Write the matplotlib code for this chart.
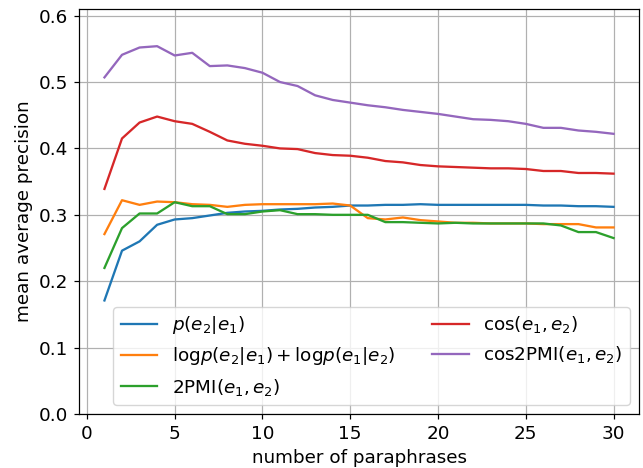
import matplotlib
matplotlib.use("Agg")
import matplotlib.pyplot as plt

x = list(range(1, 31))

p_e2_e1 = [0.171, 0.246, 0.260, 0.285, 0.293, 0.295, 0.299, 0.303, 0.305, 0.306,
           0.308, 0.309, 0.311, 0.312, 0.314, 0.314, 0.315, 0.315, 0.316, 0.315,
           0.315, 0.315, 0.315, 0.315, 0.315, 0.314, 0.314, 0.313, 0.313, 0.312]
logp_sum = [0.271, 0.322, 0.315, 0.320, 0.319, 0.316, 0.315, 0.312, 0.315, 0.316,
            0.316, 0.316, 0.316, 0.317, 0.314, 0.295, 0.293, 0.296, 0.292, 0.290,
            0.288, 0.288, 0.287, 0.287, 0.287, 0.286, 0.286, 0.286, 0.281, 0.281]
pmi2 = [0.220, 0.280, 0.302, 0.302, 0.319, 0.313, 0.313, 0.301, 0.301, 0.305,
        0.307, 0.301, 0.301, 0.300, 0.300, 0.300, 0.289, 0.289, 0.288, 0.287,
        0.288, 0.287, 0.287, 0.287, 0.287, 0.287, 0.284, 0.274, 0.274, 0.265]
cos_e = [0.339, 0.415, 0.439, 0.448, 0.441, 0.437, 0.425, 0.412, 0.407, 0.404,
         0.400, 0.399, 0.393, 0.390, 0.389, 0.386, 0.381, 0.379, 0.375, 0.373,
         0.372, 0.371, 0.370, 0.370, 0.369, 0.366, 0.366, 0.363, 0.363, 0.362]
cos2pmi = [0.507, 0.541, 0.552, 0.554, 0.540, 0.544, 0.524, 0.525, 0.521, 0.514,
           0.500, 0.494, 0.480, 0.473, 0.469, 0.465, 0.462, 0.458, 0.455, 0.452,
           0.448, 0.444, 0.443, 0.441, 0.437, 0.431, 0.431, 0.427, 0.425, 0.422]

labels = [r'$p(e_2|e_1)$',
          r'$\mathrm{log}p(e_2|e_1) + \mathrm{log}p(e_1|e_2)$',
          r'$2\mathrm{PMI}(e_1, e_2)$',
          r'$\mathrm{cos}(e_1, e_2)$',
          r'$\mathrm{cos2PMI}(e_1, e_2)$']
series = [p_e2_e1, logp_sum, pmi2, cos_e, cos2pmi]
colors = ['#1f77b4', '#ff7f0e', '#2ca02c', '#d62728', '#9467bd']

s = 1.1
plt.rcParams.update({
    'font.size': 12 * s,
    'lines.linewidth': 1.5 * s,
    'grid.linewidth': 0.8 * s,
    'axes.linewidth': 0.8 * s,
    'xtick.major.size': 3.5 * s,
    'ytick.major.size': 3.5 * s,
    'xtick.major.width': 0.8 * s,
    'ytick.major.width': 0.8 * s,
    'xtick.major.pad': 3.5 * s,
    'ytick.major.pad': 3.5 * s,
    'legend.borderaxespad': 0.5,
})
fig = plt.figure(figsize=(6.43, 4.68), dpi=100)
ax = fig.add_axes([79/643, 54/468, 560/643, 405/468])
for ser, lab, c in zip(series, labels, colors):
    ax.plot(x, ser, color=c, label=lab)

ax.set_ylim(0, 0.61)
ax.set_xlim(-0.45, 31.45)
ax.set_yticks([0.0, 0.1, 0.2, 0.3, 0.4, 0.5, 0.6])
ax.set_xticks([0, 5, 10, 15, 20, 25, 30])
ax.grid(True)
ax.set_xlabel('number of paraphrases', labelpad=4 * s)
ax.set_ylabel('mean average precision', labelpad=4 * s)
ax.legend(ncol=2, loc='lower right')
fig.savefig('out.png', dpi=100)
